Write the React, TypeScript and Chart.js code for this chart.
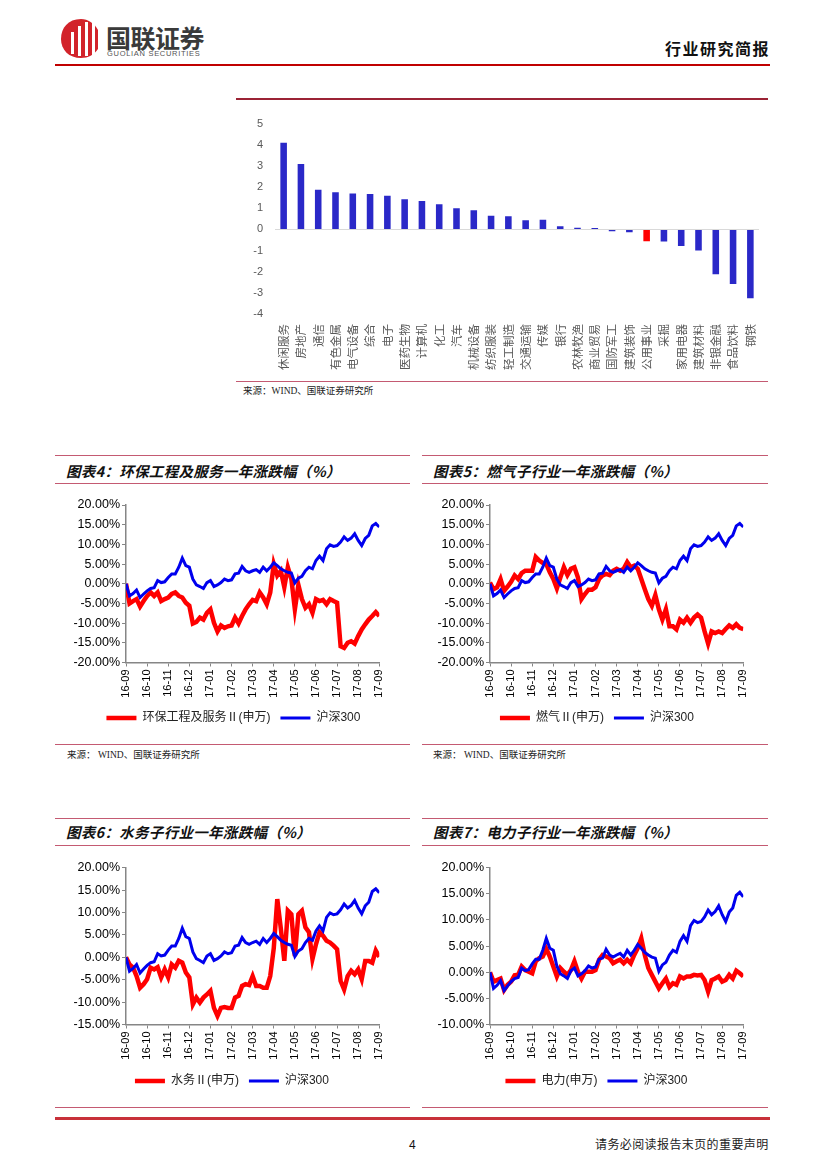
import React, { useEffect, useRef } from 'react';
import { Chart, registerables } from 'chart.js';

Chart.register(...registerables);

// ---------- data ----------
const industryNames = ['休闲服务', '房地产', '通信', '有色金属', '电气设备', '综合', '电子', '医药生物', '计算机', '化工', '汽车', '机械设备', '纺织服装', '轻工制造', '交通运输', '传媒', '银行', '农林牧渔', '商业贸易', '国防军工', '建筑装饰', '公用事业', '采掘', '家用电器', '建筑材料', '非银金融', '食品饮料', '钢铁'];
const industryChange = [4.10, 3.09, 1.87, 1.76, 1.70, 1.67, 1.59, 1.42, 1.34, 1.19, 1.00, 0.90, 0.65, 0.62, 0.43, 0.46, 0.15, 0.08, 0.07, -0.09, -0.14, -0.56, -0.57, -0.79, -1.00, -2.12, -2.58, -3.26];
const highlightIndustry = '公用事业';

const monthLabels = ['16-09', '16-10', '16-11', '16-12', '17-01', '17-02', '17-03', '17-04', '17-05', '17-06', '17-07', '17-08', '17-09'];
const pointsPerMonth = 6;

const hs300 = [0.0, -3.1, -2.5, -1.6, -3.5, -2.6, -1.8, -1.2, -1.0, 0.8, 0.3, 0.5, 1.6, 2.5, 2.5, 4.2, 6.5, 4.6, 4.2, 1.2, -0.3, -0.7, -1.2, 0.3, 0.8, -0.7, -0.3, 0.3, 1.2, 0.8, 1.0, 2.5, 2.7, 4.4, 3.3, 2.9, 3.3, 3.6, 2.9, 4.2, 3.3, 4.2, 5.3, 4.6, 3.8, 3.3, 2.9, 2.7, 0.2, 1.4, 1.9, 3.3, 4.2, 3.8, 5.9, 7.0, 5.9, 8.9, 9.9, 9.5, 9.7, 10.6, 11.9, 11.0, 11.6, 12.7, 11.0, 9.7, 11.5, 12.3, 14.7, 15.3, 14.4];
const envProtection = [0, -5.0, -4.4, -3.9, -5.8, -4.4, -3.1, -2.2, -3.1, -2.2, -4.4, -3.9, -3.5, -2.6, -2.2, -3.1, -3.5, -4.8, -5.6, -10.1, -9.7, -8.6, -9.1, -7.4, -6.5, -9.9, -12.1, -10.6, -11.2, -10.8, -10.6, -8.6, -10.1, -8.2, -6.5, -5.2, -4.1, -4.4, -2.2, -3.5, -5.2, -2.2, 5.0, 2.1, 3.3, -0.9, 4.2, 1.2, -6.5, -0.3, -3.9, -6.1, -5.2, -7.4, -3.9, -4.4, -4.1, -5.2, -3.9, -4.4, -4.8, -15.9, -16.3, -15.0, -14.6, -15.2, -13.3, -11.6, -10.3, -9.1, -8.2, -7.2, -8.2];
const gasUtility = [0.3, -1.4, -0.9, 1.2, -1.8, -0.7, 0.5, 2.1, 1.2, 2.7, 3.3, 3.3, 3.3, 6.8, 5.9, 5.3, 5.0, 2.9, 1.2, -1.2, 1.6, 4.2, 2.2, 3.8, 4.2, 1.6, -3.9, -2.6, -1.5, -1.5, -0.9, 1.2, 2.1, 2.5, 2.2, 3.3, 3.8, 3.3, 3.8, 5.5, 4.2, 4.6, 3.8, 1.2, -1.4, -3.9, -5.6, -2.9, -6.5, -9.1, -6.5, -10.8, -10.8, -11.6, -9.1, -9.9, -8.6, -9.9, -8.6, -7.8, -8.6, -12.1, -15.2, -12.1, -12.5, -12.1, -12.5, -11.5, -10.6, -11.2, -10.3, -11.2, -11.5];
const waterUtility = [0, -1.6, -2.3, -4.2, -6.8, -6.0, -4.9, -2.3, -2.7, -2.2, -4.5, -2.7, -4.5, -1.6, -2.3, -0.8, -1.2, -3.4, -4.5, -10.5, -9.0, -10.1, -9.0, -8.3, -7.5, -11.3, -13.1, -11.3, -11.1, -11.3, -11.3, -9.0, -8.6, -6.4, -6.0, -6.2, -4.2, -6.4, -6.4, -6.8, -6.8, -4.2, 2.0, 13.0, 6.5, -0.8, 10.4, 9.6, 0.3, 9.6, 10.4, 6.7, 5.6, -0.4, 2.9, 5.6, 4.8, 3.7, 3.3, 2.6, 1.8, -5.3, -7.2, -4.2, -3.0, -3.8, -2.7, -4.9, -0.8, -0.8, -1.2, 1.5, 0.1];
const powerUtility = [0, -1.8, -1.5, -1.2, -3.4, -2.4, -1.8, -0.6, -0.5, 1.1, 0.4, 0.1, -0.2, 2.1, 2.7, 3.0, 4.5, 3.0, 1.1, -0.8, 0.8, 0.1, -0.5, 0.4, 2.1, 0.1, -1.2, 0.1, 0.1, 0.1, 0.4, 2.4, 3.3, 3.0, 2.7, 1.7, 2.1, 2.4, 1.7, 2.4, 1.7, 3.3, 4.6, 6.5, 3.3, 0.8, -0.5, -1.8, -3.1, -2.1, -1.2, -2.8, -2.1, -2.4, -0.8, -1.2, -0.8, -0.8, -0.5, -0.6, -0.5, -1.5, -3.7, -1.5, -1.2, -0.8, -1.8, -1.5, -0.5, -1.2, 0.3, -0.2, -0.8];

// ---------- styles ----------
const SANS = '"Liberation Sans", "Noto Sans CJK SC", sans-serif';
const CJK = '"Noto Sans CJK SC", sans-serif';
const SERIF = '"Liberation Serif", "Noto Sans CJK SC", serif';
const FRAME = '#C45A72';
const RED = '#FF0000';
const BLUE = '#0000EE';
const AXIS = '#868686';

type LineProps = {
  left: number; top: number; width: number; height: number;
  padTop: number; padRight: number; legendShift: number;
  yW: number; xH: number; yMin: number; yMax: number;
  redLabel: string; redData: number[];
};

function LineChartBox(p: LineProps) {
  const ref = useRef<HTMLCanvasElement>(null);
  useEffect(() => {
    const toPts = (arr: number[]) => arr.map((y, i) => ({ x: i, y }));
    const shiftLegend = {
      id: 'shiftLegend',
      afterLayout(chart: any) {
        const lg = chart.legend;
        if (lg) { lg.left += p.legendShift; lg.right += p.legendShift; }
      },
    };
    const chart = new Chart(ref.current as HTMLCanvasElement, {
      type: 'line',
      data: {
        datasets: [
          { label: '沪深300', data: toPts(hs300), borderColor: BLUE, backgroundColor: BLUE, borderWidth: 3, pointRadius: 0, tension: 0 },
          { label: p.redLabel, data: toPts(p.redData), borderColor: RED, backgroundColor: RED, borderWidth: 4.5, pointRadius: 0, tension: 0 },
        ],
      },
      plugins: [shiftLegend],
      options: {
        animation: false,
        responsive: false,
        maintainAspectRatio: false,
        layout: { padding: { left: 0, top: p.padTop, right: p.padRight, bottom: 0 } },
        plugins: {
          legend: {
            position: 'bottom',
            labels: {
              usePointStyle: true,
              pointStyle: 'line',
              pointStyleWidth: 30,
              padding: 10,
              color: '#222',
              font: { size: 12, family: SANS },
              sort: (a: any, b: any) => b.datasetIndex - a.datasetIndex,
            },
          },
          tooltip: { enabled: false },
        },
        scales: {
          x: {
            type: 'linear',
            min: 0,
            max: (monthLabels.length - 1) * pointsPerMonth,
            afterFit: (s: any) => { s.height = p.xH; },
            ticks: {
              stepSize: pointsPerMonth,
              autoSkip: false,
              maxRotation: 90,
              minRotation: 90,
              padding: 3,
              color: '#000',
              font: { size: 11, family: SANS },
              callback: (v: any) => monthLabels[Math.round(Number(v) / pointsPerMonth)] ?? '',
            },
            grid: { drawOnChartArea: false, tickLength: 4, color: AXIS, lineWidth: 1 },
            border: { color: AXIS, width: 1.5 },
          },
          y: {
            min: p.yMin,
            max: p.yMax,
            afterFit: (s: any) => { s.width = p.yW; },
            ticks: {
              stepSize: 5,
              padding: 2,
              color: '#000',
              font: { size: 12.5, family: SANS },
              callback: (v: any) => Number(v).toFixed(2) + '%',
            },
            grid: { drawOnChartArea: false, tickLength: 4, color: AXIS, lineWidth: 1 },
            border: { color: AXIS, width: 1.5 },
          },
        },
      } as any,
    } as any);
    return () => chart.destroy();
  }, []);
  return (
    <canvas
      ref={ref}
      width={p.width}
      height={p.height}
      style={{ position: 'absolute', left: p.left, top: p.top, width: p.width, height: p.height }}
    />
  );
}

function BarChartBox() {
  const ref = useRef<HTMLCanvasElement>(null);
  useEffect(() => {
    const colors = industryNames.map((n) => (n === highlightIndustry ? '#FF0000' : '#2A28C8'));
    const chart = new Chart(ref.current as HTMLCanvasElement, {
      type: 'bar',
      data: {
        labels: industryNames,
        datasets: [{ data: industryChange, backgroundColor: colors, barPercentage: 0.38, categoryPercentage: 1 }],
      },
      options: {
        animation: false,
        responsive: false,
        maintainAspectRatio: false,
        layout: { padding: { left: 0, top: 12, right: 9, bottom: 0 } },
        plugins: { legend: { display: false }, tooltip: { enabled: false } },
        scales: {
          x: {
            afterFit: (s: any) => { s.height = 66; },
            grid: { display: false },
            border: { display: false },
            ticks: {
              autoSkip: false,
              maxRotation: 90,
              minRotation: 90,
              padding: 2,
              color: '#595959',
              font: { size: 11.5, family: CJK },
            },
          },
          y: {
            min: -4,
            max: 5,
            afterFit: (s: any) => { s.width = 39; },
            ticks: { stepSize: 1, padding: 12, color: '#595959', font: { size: 11, family: SANS } },
            grid: {
              drawTicks: false,
              lineWidth: 1,
              color: (ctx: any) => (ctx.tick && ctx.tick.value === 0 ? '#D9D9D9' : 'rgba(0,0,0,0)'),
            },
            border: { display: false },
          },
        },
      } as any,
    });
    return () => chart.destroy();
  }, []);
  return (
    <canvas
      ref={ref}
      width={532}
      height={275}
      style={{ position: 'absolute', left: 236, top: 105, width: 532, height: 275 }}
    />
  );
}

const hLine = (left: number, top: number, width: number, height: number, color: string) => (
  <div style={{ position: 'absolute', left, top, width, height, background: color }} />
);

const text = (content: string, left: number, centerY: number, size: number, extra: any = {}) => (
  <div
    style={{
      position: 'absolute',
      left,
      top: centerY - size * 0.7,
      fontSize: size,
      lineHeight: size * 1.4 + 'px',
      whiteSpace: 'nowrap',
      fontFamily: CJK,
      color: '#111',
      ...extra,
    }}
  >
    {content}
  </div>
);

function Logo() {
  return (
    <svg width={46} height={44} style={{ position: 'absolute', left: 58, top: 16 }} viewBox="0 0 46 44">
      <path d="M23 3 C10 3 3 12 3 23 C3 34 11 42 23 42 C30 42 36 39 40 33 L40 14 C36 7 30 3 23 3 Z" fill="#D2232A" />
      <rect x="13" y="16" width="3" height="22" fill="#fff" />
      <rect x="20" y="10" width="3" height="30" fill="#fff" />
      <rect x="27" y="6" width="3" height="34" fill="#fff" />
      <rect x="34" y="4" width="3" height="36" fill="#fff" />
    </svg>
  );
}

const TITLE = { fontWeight: 700, fontStyle: 'italic', letterSpacing: '0.3px' };

export default function App() {
  return (
    <div style={{ position: 'absolute', left: 0, top: 0, width: 827, height: 1169, background: '#fff', overflow: 'hidden' }}>
      {/* header */}
      <Logo />
      {text('国联证券', 106, 37, 25, { fontWeight: 700, color: '#3A3A3A', letterSpacing: '-0.5px' })}
      {text('GUOLIAN SECURITIES', 107, 54, 7.5, { fontFamily: SANS, color: '#555', letterSpacing: '0.7px' })}
      <div style={{ position: 'absolute', right: 57, top: 37, fontSize: 16, lineHeight: '22px', fontWeight: 700, fontFamily: CJK, letterSpacing: '1.5px', color: '#111' }}>行业研究简报</div>
      {hLine(55, 64, 715, 2, '#C00000')}

      {/* bar chart */}
      {hLine(236, 98, 532, 1.5, '#9B2335')}
      <BarChartBox />
      {hLine(236, 381, 532, 1, FRAME)}
      {text('来源：WIND、国联证券研究所', 243, 392, 9.5, { fontFamily: SERIF, color: '#222' })}

      {/* chart 4 */}
      {hLine(55, 455, 355, 1, FRAME)}
      {text('图表4：环保工程及服务一年涨跌幅（%）', 66, 471.5, 14.5, TITLE)}
      {hLine(55, 483, 355, 1, FRAME)}
      <LineChartBox left={55} top={490} width={355} height={244} padTop={15} padRight={30.7} legendShift={16.3} yW={71} xH={39.5} yMin={-20} yMax={20} redLabel="环保工程及服务Ⅱ(申万)" redData={envProtection} />
      {hLine(55, 744, 355, 1, FRAME)}
      {text('来源： WIND、国联证券研究所', 67, 755.5, 9.5, { fontFamily: SERIF, color: '#222' })}

      {/* chart 5 */}
      {hLine(422, 455, 346, 1, FRAME)}
      {text('图表5：燃气子行业一年涨跌幅（%）', 433, 471.5, 14.5, TITLE)}
      {hLine(422, 483, 346, 1, FRAME)}
      <LineChartBox left={422} top={490} width={346} height={244} padTop={15} padRight={24.7} legendShift={14.3} yW={68} xH={39.5} yMin={-20} yMax={20} redLabel="燃气Ⅱ(申万)" redData={gasUtility} />
      {hLine(422, 744, 346, 1, FRAME)}
      {text('来源： WIND、国联证券研究所', 433, 755.5, 9.5, { fontFamily: SERIF, color: '#222' })}

      {/* chart 6 */}
      {hLine(55, 818, 355, 1, FRAME)}
      {text('图表6：水务子行业一年涨跌幅（%）', 66, 831.7, 14.5, TITLE)}
      {hLine(55, 845, 355, 1, FRAME)}
      <LineChartBox left={55} top={855} width={355} height={242} padTop={12.7} padRight={30.7} legendShift={14.8} yW={71} xH={40.5} yMin={-15} yMax={20} redLabel="水务Ⅱ(申万)" redData={waterUtility} />
      {hLine(55, 1107, 355, 1, FRAME)}

      {/* chart 7 */}
      {hLine(422, 818, 346, 1, FRAME)}
      {text('图表7：电力子行业一年涨跌幅（%）', 433, 831.7, 14.5, TITLE)}
      {hLine(422, 845, 346, 1, FRAME)}
      <LineChartBox left={422} top={855} width={346} height={242} padTop={12.7} padRight={24.7} legendShift={13.8} yW={68} xH={40.5} yMin={-10} yMax={20} redLabel="电力(申万)" redData={powerUtility} />
      {hLine(422, 1107, 346, 1, FRAME)}

      {/* footer */}
      {hLine(55, 1117, 715, 3, '#C8313A')}
      {text('4', 409, 1145, 12, { fontFamily: SANS, color: '#111' })}
      {text('请务必阅读报告末页的重要声明', 595, 1145, 12, { fontFamily: SERIF, color: '#222', letterSpacing: '0.4px' })}
    </div>
  );
}
